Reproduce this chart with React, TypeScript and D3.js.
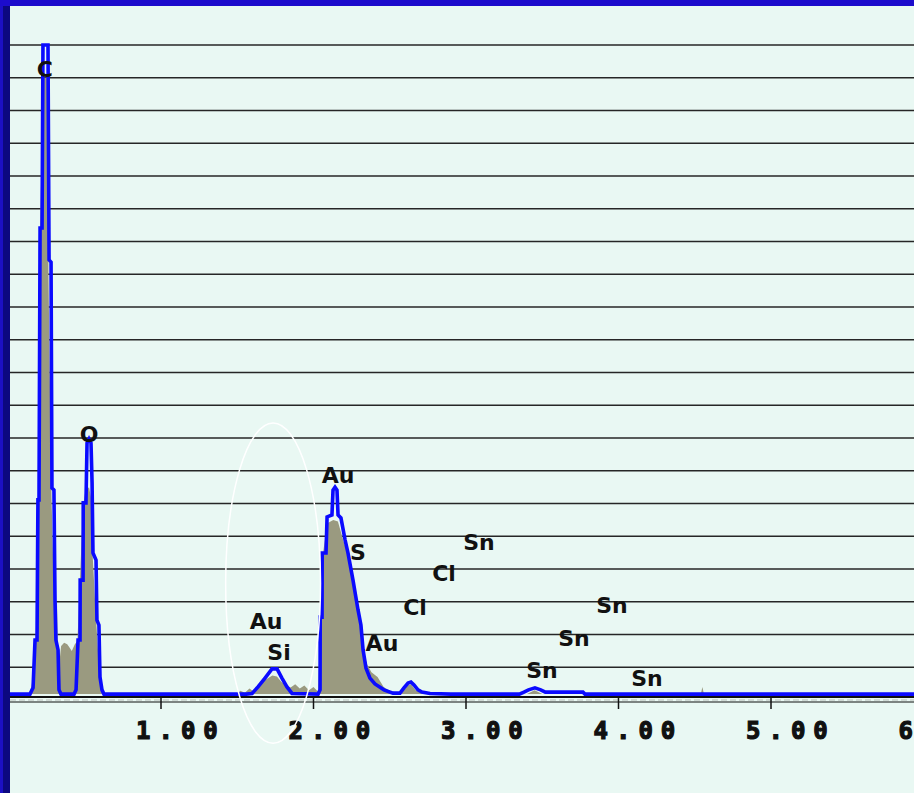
import { useEffect, useRef } from "react";
import * as d3 from "d3";

// spectrum traces, [keV, counts]
const blueSpectrum: [number, number][] = [
  [0.0, 18], [0.141, 18], [0.161, 37], [0.174, 183], [0.187, 183], [0.193, 611], [0.2, 611],
  [0.207, 1441], [0.22, 1441], [0.226, 2000], [0.259, 2000], [0.266, 1344], [0.279, 1337],
  [0.285, 647], [0.298, 641], [0.305, 305], [0.311, 183], [0.325, 153], [0.331, 31], [0.344, 18],
  [0.43, 18], [0.443, 31], [0.456, 183], [0.469, 183], [0.47, 366], [0.489, 366], [0.49, 602],
  [0.508, 602], [0.515, 785], [0.528, 797], [0.541, 785], [0.548, 663], [0.554, 449], [0.574, 427],
  [0.58, 244], [0.593, 229], [0.6, 70], [0.613, 31], [0.626, 18],
  [1.56, 18], [1.597, 20], [1.636, 40], [1.682, 67], [1.728, 95], [1.761, 95], [1.793, 67],
  [1.826, 40], [1.859, 20], [2.03, 18], [2.043, 31], [2.044, 253], [2.056, 253], [2.057, 449],
  [2.082, 449], [2.089, 559], [2.121, 565], [2.128, 641], [2.141, 650], [2.154, 641], [2.161, 565],
  [2.18, 556], [2.207, 489], [2.226, 449], [2.259, 366], [2.292, 275], [2.311, 229], [2.325, 153],
  [2.344, 98], [2.37, 67], [2.403, 49], [2.462, 31], [2.521, 21], [2.567, 21], [2.593, 37],
  [2.62, 52], [2.639, 55], [2.659, 46], [2.685, 31], [2.711, 24], [2.764, 20], [2.9, 18],
  [3.35, 18], [3.38, 24], [3.41, 31], [3.452, 37], [3.49, 31], [3.52, 24], [3.767, 24], [3.78, 18],
  [6.0, 18],
];

const greySpectrum: [number, number][] = [
  [0.0, 18], [0.135, 18], [0.15, 40], [0.168, 90], [0.18, 190], [0.195, 600], [0.205, 1400],
  [0.228, 1900], [0.255, 1900], [0.262, 1300], [0.282, 620], [0.3, 300], [0.318, 300], [0.324, 150],
  [0.335, 120], [0.345, 165], [0.365, 175], [0.385, 170], [0.4, 160], [0.415, 150], [0.435, 170],
  [0.452, 180], [0.468, 360], [0.488, 590], [0.505, 640], [0.528, 650], [0.54, 620], [0.552, 440],
  [0.575, 240], [0.598, 70], [0.612, 25], [0.63, 18],
  [1.5, 18], [1.52, 28], [1.55, 22], [1.58, 35], [1.61, 25], [1.64, 40], [1.68, 60], [1.73, 75],
  [1.76, 72], [1.79, 55], [1.82, 45], [1.85, 38], [1.88, 48], [1.91, 35], [1.94, 44], [1.97, 30],
  [2.0, 40], [2.03, 25], [2.045, 240], [2.06, 440], [2.09, 540], [2.13, 550], [2.16, 545],
  [2.2, 480], [2.23, 440], [2.26, 360], [2.29, 270], [2.31, 225], [2.33, 150], [2.35, 110],
  [2.38, 85], [2.42, 70], [2.46, 40], [2.52, 22], [2.58, 25], [2.62, 45], [2.64, 48], [2.67, 30],
  [2.72, 18], [3.4, 18], [3.45, 30], [3.5, 18], [4.54, 18], [4.55, 40], [4.56, 18], [6.0, 18],
];

const peakLabels: { text: string; kev: number; count: number }[] = [
  { text: "C", kev: 0.239, count: 1927 },
  { text: "O", kev: 0.528, count: 812 },
  { text: "Au", kev: 2.161, count: 687 },
  { text: "S", kev: 2.292, count: 452 },
  { text: "Sn", kev: 3.085, count: 482 },
  { text: "Cl", kev: 2.856, count: 388 },
  { text: "Cl", kev: 2.666, count: 284 },
  { text: "Au", kev: 2.449, count: 174 },
  { text: "Au", kev: 1.689, count: 241 },
  { text: "Si", kev: 1.774, count: 147 },
  { text: "Sn", kev: 3.957, count: 290 },
  { text: "Sn", kev: 3.708, count: 189 },
  { text: "Sn", kev: 3.498, count: 92 },
  { text: "Sn", kev: 4.187, count: 67 },
];

const tickValues = [1, 2, 3, 4, 5, 6];
const tickLabels = ["1.00", "2.00", "3.00", "4.00", "5.00", "6.00"];
const gridValues = d3.range(100, 2001, 100);
const background = 18;
// highlighted Si region (keV / counts)
const ellipse = { kev: 1.735, count: 357, dKev: 0.311, dCount: 489 };

export default function App() {
  const ref = useRef<SVGSVGElement>(null);
  const width = 914;
  const height = 793;

  useEffect(() => {
    const svg = d3.select(ref.current);
    svg.selectAll("*").remove();

    /* -------- scales -------- */
    const x = d3.scaleLinear().domain([0, 6]).range([8.5, 923.5]);
    const y = d3.scaleLinear().domain([0, 2000]).range([700, 45]);

    svg.append("rect").attr("width", width).attr("height", height).attr("fill", "#e9f8f3");

    /* -------- grid -------- */
    svg
      .append("g")
      .selectAll("line")
      .data(gridValues)
      .join("line")
      .attr("x1", 10)
      .attr("x2", width)
      .attr("y1", (d) => y(d))
      .attr("y2", (d) => y(d))
      .attr("stroke", "#262626")
      .attr("stroke-width", 1.7);

    /* -------- spectra -------- */
    const area = d3
      .area<[number, number]>()
      .x((d) => x(d[0]))
      .y0(y(background))
      .y1((d) => y(d[1]));
    svg.append("path").attr("d", area(greySpectrum)).attr("fill", "#9a9a80");

    const line = d3
      .line<[number, number]>()
      .x((d) => x(d[0]))
      .y((d) => y(d[1]));
    svg
      .append("path")
      .attr("d", line(blueSpectrum))
      .attr("fill", "none")
      .attr("stroke", "#0a0aff")
      .attr("stroke-width", 3.6)
      .attr("stroke-linejoin", "miter");

    /* -------- axis -------- */
    const ax = svg.append("g");
    ax.append("line").attr("x1", 10).attr("x2", width).attr("y1", y(0) - 3).attr("y2", y(0) - 3)
      .attr("stroke", "#111").attr("stroke-width", 2);
    ax.append("line").attr("x1", 10).attr("x2", width).attr("y1", y(0)).attr("y2", y(0))
      .attr("stroke", "#b8bcb8").attr("stroke-width", 1).attr("stroke-dasharray", "6,3");
    ax.append("line").attr("x1", 10).attr("x2", width).attr("y1", y(0) + 2).attr("y2", y(0) + 2)
      .attr("stroke", "#111").attr("stroke-width", 1.2);
    ax.selectAll("line.tick")
      .data(tickValues)
      .join("line")
      .attr("class", "tick")
      .attr("x1", (d) => x(d))
      .attr("x2", (d) => x(d))
      .attr("y1", y(0) - 3)
      .attr("y2", y(0) + 9)
      .attr("stroke", "#111")
      .attr("stroke-width", 1.5);
    ax.selectAll("text")
      .data(tickValues)
      .join("text")
      .attr("x", (d) => x(d) - 25)
      .attr("y", y(0) + 39)
      .attr("font-family", "DejaVu Sans Mono")
      .attr("font-weight", "bold")
      .attr("font-size", 24)
      .attr("letter-spacing", 8)
      .attr("fill", "#111")
      .attr("stroke", "#111")
      .attr("stroke-width", 1.2)
      .text((_, i) => tickLabels[i]);

    /* -------- highlight ellipse -------- */
    svg
      .append("ellipse")
      .attr("cx", x(ellipse.kev))
      .attr("cy", y(ellipse.count))
      .attr("rx", x(ellipse.kev + ellipse.dKev) - x(ellipse.kev))
      .attr("ry", y(0) - y(ellipse.dCount))
      .attr("fill", "none")
      .attr("stroke", "#ffffff")
      .attr("stroke-width", 1.5);

    /* -------- element labels -------- */
    svg
      .append("g")
      .selectAll("text")
      .data(peakLabels)
      .join("text")
      .attr("x", (d) => x(d.kev))
      .attr("y", (d) => y(d.count))
      .attr("dy", "0.36em")
      .attr("text-anchor", "middle")
      .attr("font-family", "DejaVu Sans")
      .attr("font-weight", "bold")
      .attr("font-size", 22)
      .attr("fill", "#111")
      .text((d) => d.text);

    /* -------- frame -------- */
    svg.append("rect").attr("x", 0).attr("y", 0).attr("width", 10).attr("height", height).attr("fill", "#0c0880");
    svg.append("rect").attr("x", 0).attr("y", 0).attr("width", 3).attr("height", height).attr("fill", "#1c10c4");
    svg.append("rect").attr("x", 0).attr("y", 0).attr("width", width).attr("height", 6).attr("fill", "#1c0ccc");
  }, []);

  return (
    <svg
      ref={ref}
      width={width}
      height={height}
      style={{ position: "absolute", left: 0, top: 0, display: "block" }}
    />
  );
}
